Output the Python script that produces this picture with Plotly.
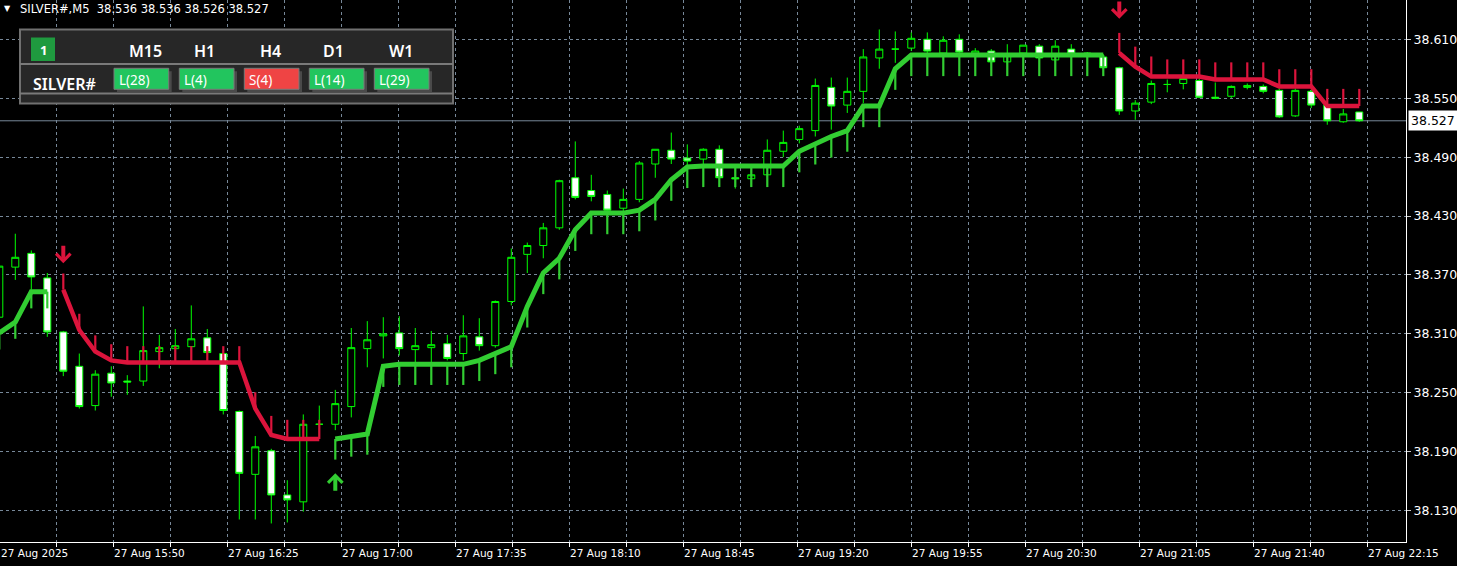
import plotly.graph_objects as go

# ---------------- data ----------------
symbol = "SILVER#"
timeframe = "M5"
header_quote = ["38.536", "38.536", "38.526", "38.527"]

opens = [38.327, 38.378, 38.392, 38.367, 38.312, 38.277, 38.237, 38.270, 38.262, 38.262,
         38.292, 38.295, 38.297, 38.306, 38.290, 38.231, 38.167, 38.191, 38.146, 38.139,
         38.218, 38.218, 38.236, 38.295, 38.308, 38.311, 38.294, 38.296, 38.300, 38.290,
         38.307, 38.298, 38.343, 38.391, 38.400, 38.418, 38.469, 38.456, 38.452, 38.438,
         38.447, 38.483, 38.497, 38.489, 38.488, 38.498, 38.469, 38.468, 38.472, 38.496,
         38.508, 38.517, 38.561, 38.543, 38.557, 38.591, 38.600, 38.601, 38.610, 38.596,
         38.610, 38.595, 38.598, 38.587, 38.596, 38.603, 38.589, 38.600, 38.594, 38.592,
         38.581, 38.537, 38.546, 38.564, 38.565, 38.568, 38.551, 38.552, 38.561, 38.562,
         38.558, 38.532, 38.557, 38.543, 38.526, 38.536]
highs = [38.385, 38.412, 38.395, 38.372, 38.313, 38.290, 38.273, 38.277, 38.268, 38.338,
         38.309, 38.315, 38.339, 38.315, 38.292, 38.232, 38.206, 38.193, 38.161, 38.228,
         38.237, 38.253, 38.316, 38.323, 38.327, 38.328, 38.316, 38.313, 38.309, 38.329,
         38.326, 38.344, 38.397, 38.403, 38.423, 38.467, 38.506, 38.472, 38.456, 38.458,
         38.486, 38.498, 38.515, 38.503, 38.499, 38.502, 38.479, 38.477, 38.508, 38.517,
         38.522, 38.570, 38.571, 38.571, 38.600, 38.620, 38.618, 38.617, 38.617, 38.613,
         38.615, 38.601, 38.600, 38.605, 38.604, 38.605, 38.609, 38.605, 38.597, 38.595,
         38.582, 38.548, 38.568, 38.569, 38.570, 38.570, 38.566, 38.563, 38.565, 38.564,
         38.560, 38.560, 38.559, 38.545, 38.539, 38.536]
lows = [38.320, 38.365, 38.355, 38.307, 38.267, 38.234, 38.232, 38.246, 38.248, 38.257,
        38.275, 38.282, 38.282, 38.289, 38.228, 38.121, 38.121, 38.117, 38.118, 38.129,
        38.205, 38.212, 38.225, 38.276, 38.285, 38.288, 38.280, 38.280, 38.283, 38.283,
        38.293, 38.296, 38.339, 38.372, 38.387, 38.416, 38.447, 38.445, 38.432, 38.432,
        38.444, 38.469, 38.483, 38.480, 38.481, 38.467, 38.458, 38.460, 38.470, 38.490,
        38.504, 38.511, 38.518, 38.535, 38.545, 38.580, 38.586, 38.598, 38.596, 38.594,
        38.595, 38.592, 38.585, 38.585, 38.593, 38.589, 38.587, 38.593, 38.591, 38.579,
        38.533, 38.528, 38.544, 38.556, 38.559, 38.550, 38.549, 38.550, 38.559, 38.555,
        38.530, 38.531, 38.540, 38.523, 38.525, 38.526]
closes = [38.379, 38.388, 38.368, 38.312, 38.272, 38.236, 38.269, 38.260, 38.261, 38.293,
          38.296, 38.298, 38.305, 38.291, 38.232, 38.168, 38.195, 38.146, 38.141, 38.218,
          38.218, 38.239, 38.296, 38.304, 38.310, 38.295, 38.298, 38.299, 38.285, 38.308,
          38.298, 38.343, 38.388, 38.400, 38.418, 38.466, 38.449, 38.450, 38.436, 38.447,
          38.484, 38.498, 38.488, 38.486, 38.498, 38.469, 38.468, 38.472, 38.497, 38.505,
          38.519, 38.563, 38.542, 38.557, 38.592, 38.600, 38.600, 38.611, 38.598, 38.609,
          38.597, 38.598, 38.587, 38.594, 38.604, 38.591, 38.603, 38.595, 38.596, 38.581,
          38.537, 38.545, 38.565, 38.564, 38.570, 38.551, 38.550, 38.562, 38.563, 38.557,
          38.531, 38.558, 38.543, 38.527, 38.534, 38.527]

# trailing stop indicator (long = green, short = red)
bull_stop = ([38.311, 38.322, 38.353, 38.353] + [None] * 17 +
             [38.203, 38.206, 38.208, 38.277, 38.279, 38.279, 38.279, 38.279, 38.279, 38.283,
              38.290, 38.297, 38.338, 38.372, 38.387, 38.416, 38.433, 38.433, 38.433, 38.436,
              38.447, 38.467, 38.480, 38.481, 38.481, 38.481, 38.481, 38.481, 38.481, 38.496,
              38.504, 38.511, 38.517, 38.542, 38.542, 38.580, 38.594, 38.594, 38.594, 38.594,
              38.594, 38.594, 38.594, 38.594, 38.594, 38.594, 38.594, 38.594, 38.594] +
             [None] * 16)
bear_stop = ([None] * 4 +
             [38.355, 38.314, 38.292, 38.283, 38.281, 38.281, 38.281, 38.281, 38.281, 38.281,
              38.281, 38.281, 38.234, 38.207, 38.203, 38.203, 38.203] +
             [None] * 49 +
             [38.596, 38.582, 38.572, 38.572, 38.572, 38.572, 38.569, 38.569, 38.569, 38.569,
              38.562, 38.562, 38.562, 38.542, 38.542, 38.542])
stop_band = ([0.017] * 4 + [0.0165] * 13 + [0.0195] * 4 + [0.021] * 12 + [0.0215] * 37 +
             [0.0205] * 3 + [0.0175] * 13)

buy_arrow_bars = [21]
buy_arrow_prices = [38.168]
sell_arrow_bars = [4, 70]
sell_arrow_prices = [38.382, 38.631]

price_ticks = [38.130, 38.190, 38.250, 38.310, 38.370, 38.430, 38.490, 38.550, 38.610]
time_labels = ["27 Aug 2025", "27 Aug 15:50", "27 Aug 16:25", "27 Aug 17:00", "27 Aug 17:35",
               "27 Aug 18:10", "27 Aug 18:45", "27 Aug 19:20", "27 Aug 19:55", "27 Aug 20:30",
               "27 Aug 21:05", "27 Aug 21:40", "27 Aug 22:15"]

panel_timeframes = ["M15", "H1", "H4", "D1", "W1"]
panel_signals = ["L(28)", "L(4)", "S(4)", "L(14)", "L(29)"]
panel_page = "1"

# ---------------- styling / layout constants ----------------
bars = list(range(len(opens)))
W, H = 1406, 542                # plot-area size in px
LABEL_STEP = 7.125              # bars between time labels
GRID_STEP = LABEL_STEP / 2
X_RANGE = [0.044, 87.92]
Y_RANGE = [38.0981, 38.6500]
GRID = "#778899"
LIME = "#00ff00"
GREEN_LINE = "#32cd32"
RED_LINE = "#dc143c"


def px(x):
    return x / W


def py(y):
    return 1 - y / H


fig = go.Figure()

fig.add_trace(go.Candlestick(
    x=bars, open=opens, high=highs, low=lows, close=closes,
    increasing=dict(line=dict(color=LIME, width=1), fillcolor="black"),
    decreasing=dict(line=dict(color=LIME, width=1), fillcolor="white"),
    whiskerwidth=0, hoverinfo="skip", showlegend=False))

# spikes of the trailing stop
gx, gy, rx, ry = [], [], [], []
for k in bars:
    if bull_stop[k] is not None:
        gx += [k, k, None]
        gy += [bull_stop[k], bull_stop[k] - stop_band[k], None]
    if bear_stop[k] is not None:
        rx += [k, k, None]
        ry += [bear_stop[k], bear_stop[k] + stop_band[k], None]
fig.add_trace(go.Scatter(x=gx, y=gy, mode="lines", line=dict(color=GREEN_LINE, width=2.2),
                         hoverinfo="skip", showlegend=False))
fig.add_trace(go.Scatter(x=rx, y=ry, mode="lines", line=dict(color=RED_LINE, width=2.2),
                         hoverinfo="skip", showlegend=False))
fig.add_trace(go.Scatter(x=bars, y=bull_stop, mode="lines", connectgaps=False,
                         line=dict(color=GREEN_LINE, width=5), hoverinfo="skip", showlegend=False))
fig.add_trace(go.Scatter(x=bars, y=bear_stop, mode="lines", connectgaps=False,
                         line=dict(color=RED_LINE, width=4.5), hoverinfo="skip", showlegend=False))

annotations = []
# arrows
for k, p in zip(sell_arrow_bars, sell_arrow_prices):
    annotations.append(dict(x=k, y=p, xref="x", yref="y", text="", showarrow=True,
                            ax=0, ay=-19, arrowhead=4, arrowsize=0.7, arrowwidth=4,
                            arrowcolor=RED_LINE, standoff=0))
for k, p in zip(buy_arrow_bars, buy_arrow_prices):
    annotations.append(dict(x=k, y=p, xref="x", yref="y", text="", showarrow=True,
                            ax=0, ay=19, arrowhead=4, arrowsize=0.7, arrowwidth=4,
                            arrowcolor=GREEN_LINE, standoff=0))

# time labels (left aligned at their tick, MT style)
for i, lab in enumerate(time_labels):
    annotations.append(dict(x=max(i * LABEL_STEP, X_RANGE[0]), y=0, xref="x", yref="paper",
                            text=lab, showarrow=False, xanchor="left", yanchor="middle",
                            yshift=-11, xshift=-1,
                            font=dict(family="DejaVu Sans", size=10.5, color="white")))

# current price box
annotations.append(dict(x=1, y=closes[-1], xref="paper", yref="y",
                        text=f"{closes[-1]:.3f}", showarrow=False, xanchor="left",
                        yanchor="middle", xshift=2, bgcolor="white", borderpad=2,
                        font=dict(family="DejaVu Sans", size=12.5, color="black")))

# header
annotations.append(dict(x=px(7), y=py(9), xref="paper", yref="paper", text="▼",
                        showarrow=False, xanchor="center", yanchor="middle",
                        font=dict(family="DejaVu Sans", size=8, color="white")))
annotations.append(dict(x=px(18), y=py(9), xref="paper", yref="paper",
                        text=f"{symbol},{timeframe}  " + " ".join(header_quote),
                        showarrow=False, xanchor="left", yanchor="middle",
                        font=dict(family="DejaVu Sans", size=11.5, color="white")))

shapes = []
# current price line
shapes.append(dict(type="line", xref="paper", yref="y", x0=0, x1=1, y0=closes[-1], y1=closes[-1],
                   line=dict(color=GRID, width=1), layer="below"))

# info panel
PANEL_BORDER = "#707070"
shapes.append(dict(type="rect", xref="paper", yref="paper", x0=px(20), x1=px(453),
                   y0=py(103.5), y1=py(29.5), fillcolor="#272727",
                   line=dict(color=PANEL_BORDER, width=2), layer="above"))
for yy in (64, 93.5):
    shapes.append(dict(type="line", xref="paper", yref="paper", x0=px(20), x1=px(453),
                       y0=py(yy), y1=py(yy), line=dict(color="#7a7a7a", width=2), layer="above"))
shapes.append(dict(type="rect", xref="paper", yref="paper", x0=px(31), x1=px(55),
                   y0=py(61), y1=py(37.5), fillcolor="#1f9a3f", line=dict(width=0), layer="above"))
annotations.append(dict(x=px(43), y=py(49.5), xref="paper", yref="paper", text=panel_page,
                        showarrow=False, xanchor="center", yanchor="middle",
                        font=dict(family="Noto Sans", size=13, color="white", weight="bold")))
header_x = [145, 204, 270, 333, 401]
for tf, cx in zip(panel_timeframes, header_x):
    annotations.append(dict(x=px(cx), y=py(51), xref="paper", yref="paper", text=tf,
                            showarrow=False, xanchor="center", yanchor="middle",
                            font=dict(family="Noto Sans", size=16, color="white", weight=600)))
annotations.append(dict(x=px(31), y=py(84), xref="paper", yref="paper", text=symbol,
                        showarrow=False, xanchor="left", yanchor="middle",
                        font=dict(family="Noto Sans", size=16, color="white", weight=600)))
btn_x = [114, 179.3, 244.3, 309.3, 374.3]
BTN_W = 54.7
for sig, bx in zip(panel_signals, btn_x):
    col = "#ef4444" if sig.startswith("S") else "#22c55e"
    shapes.append(dict(type="rect", xref="paper", yref="paper", x0=px(bx + 3), x1=px(bx + BTN_W + 3),
                       y0=py(92.3), y1=py(71.3), fillcolor="#4a4a4a", line=dict(width=0),
                       layer="above"))
    shapes.append(dict(type="rect", xref="paper", yref="paper", x0=px(bx), x1=px(bx + BTN_W),
                       y0=py(89.3), y1=py(68.3), fillcolor=col,
                       line=dict(color="#7a7a7a", width=1), layer="above"))
    annotations.append(dict(x=px(bx + 3), y=py(80.5), xref="paper", yref="paper", text=sig,
                            showarrow=False, xanchor="left", yanchor="middle",
                            font=dict(family="Noto Sans", size=13.5, color="white")))

fig.update_layout(
    width=1457, height=566, autosize=False,
    margin=dict(l=0, r=51, t=0, b=24, pad=0),
    paper_bgcolor="black", plot_bgcolor="black",
    showlegend=False, hovermode=False, boxgap=0.375,
    annotations=annotations, shapes=shapes,
    xaxis=dict(range=X_RANGE, tickmode="linear", tick0=0, dtick=GRID_STEP,
               showticklabels=False, ticks="outside", ticklen=4, tickcolor="white",
               showgrid=True, gridcolor=GRID, griddash="3px,3px", gridwidth=1,
               showline=True, linecolor="white", linewidth=1, zeroline=False,
               rangeslider=dict(visible=False), fixedrange=True),
    yaxis=dict(range=Y_RANGE, side="right", tickmode="array", tickvals=price_ticks,
               ticktext=[f"{v:.3f}" for v in price_ticks], ticks="outside", ticklen=4,
               tickcolor="#c8c8c8", tickfont=dict(family="DejaVu Sans", size=12.5, color="white"),
               showgrid=True, gridcolor=GRID, griddash="3px,3px", gridwidth=1,
               showline=True, linecolor="white", linewidth=1, zeroline=False, fixedrange=True),
)

fig.write_html("out.html", config={"displayModeBar": False},
               post_script="document.body.style.margin='0';document.body.style.background='black';")
